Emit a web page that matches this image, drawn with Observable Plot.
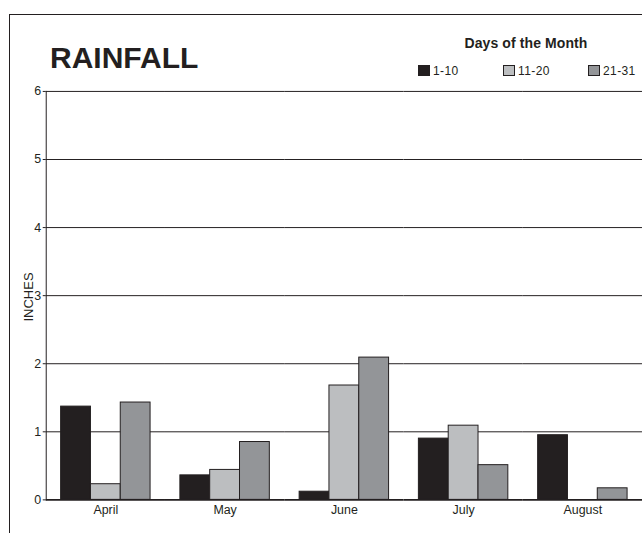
<!DOCTYPE html>
<html>
<head>
<meta charset="utf-8">
<script src="https://cdn.jsdelivr.net/npm/d3@7"></script>
<script src="https://cdn.jsdelivr.net/npm/@observablehq/plot@0.6"></script>
<style>
  body { margin: 0; width: 642px; height: 533px; overflow: hidden; position: relative; background: #fff;
         font-family: "Liberation Sans", Arial, Helvetica, sans-serif; color: #231f20; }
  #frame { position: absolute; left: 9px; top: 14px; width: 700px; height: 600px; border: 1.5px solid #231f20; box-sizing: border-box; }
  #title { position: absolute; left: 50px; top: 43px; font-size: 30px; line-height: 30px; font-weight: bold; }
  #legtitle { position: absolute; left: 426px; width: 200px; text-align: center; top: 36px; font-size: 14px; line-height: 14px;
              font-weight: bold; letter-spacing: 0.1px; }
  #legend { position: absolute; left: 418px; top: 65px; display: flex; }
  .item { width: 85px; display: flex; align-items: flex-start; }
  .sw { width: 12px; height: 11px; box-sizing: border-box; border: 1px solid #231f20; margin-right: 3px; }
  .lab { font-size: 12px; line-height: 12px; letter-spacing: 0.4px; margin-top: 0px; }
  #ylab { position: absolute; left: 28px; top: 297px; transform: translate(-50%, -50%) rotate(-90deg);
          font-size: 13px; line-height: 13px; white-space: nowrap; }
  #chart { position: absolute; left: 0; top: 80px; line-height: 0; }
  #chart svg { display: block; }
</style>
</head>
<body>
<div id="frame"></div>
<div id="title">RAINFALL</div>
<div id="legtitle">Days of the Month</div>
<div id="legend"></div>
<div id="ylab">INCHES</div>
<div id="chart"></div>
<script>
const months = ["April", "May", "June", "July", "August"];
const series = ["1-10", "11-20", "21-31"];
const days1to10 = [1.37, 0.36, 0.12, 0.90, 0.95];
const days11to20 = [0.23, 0.44, 1.68, 1.09, 0];
const days21to31 = [1.43, 0.85, 2.09, 0.51, 0.17];
const yTicks = [0, 1, 2, 3, 4, 5, 6];
const colors = ["#231f20", "#bcbec0", "#939598"];

const values = [days1to10, days11to20, days21to31];
const data = [];
months.forEach((m, i) => series.forEach((s, j) => data.push({month: m, series: s, value: values[j][i]})));

const legend = document.getElementById("legend");
series.forEach((s, j) => {
  const it = document.createElement("div");
  it.className = "item";
  it.innerHTML = `<div class="sw" style="background:${colors[j]}"></div><div class="lab">${s}</div>`;
  legend.appendChild(it);
});

const chart = Plot.plot({
  width: 646,
  height: 447,
  marginLeft: 46,
  marginRight: 0,
  marginTop: 11,
  marginBottom: 25,
  style: {fontFamily: "'Liberation Sans', Arial, Helvetica, sans-serif", fontSize: "12.5px", color: "#231f20", background: "transparent", overflow: "visible"},
  fx: {domain: months, padding: 0, axis: "bottom", tickSize: 0, tickPadding: 5, label: null},
  x: {domain: series, axis: null, paddingInner: 0, paddingOuter: 0.5},
  y: {domain: [0, 6], ticks: yTicks, tickSize: 3, tickPadding: 2, label: null, tickFormat: d3.format("d")},
  color: {domain: series, range: colors},
  marks: [
    Plot.ruleY(yTicks.filter(d => d > 0), {stroke: "#231f20", strokeWidth: 1}),
    Plot.barY(data, {fx: "month", x: "series", y: "value", fill: "series", stroke: "#231f20", strokeWidth: 1}),
    Plot.ruleY([0], {stroke: "#231f20", strokeWidth: 2}),
    Plot.frame({anchor: "left", facetAnchor: "left", stroke: "#231f20", strokeWidth: 1})
  ]
});
document.getElementById("chart").appendChild(chart);
</script>
</body>
</html>
